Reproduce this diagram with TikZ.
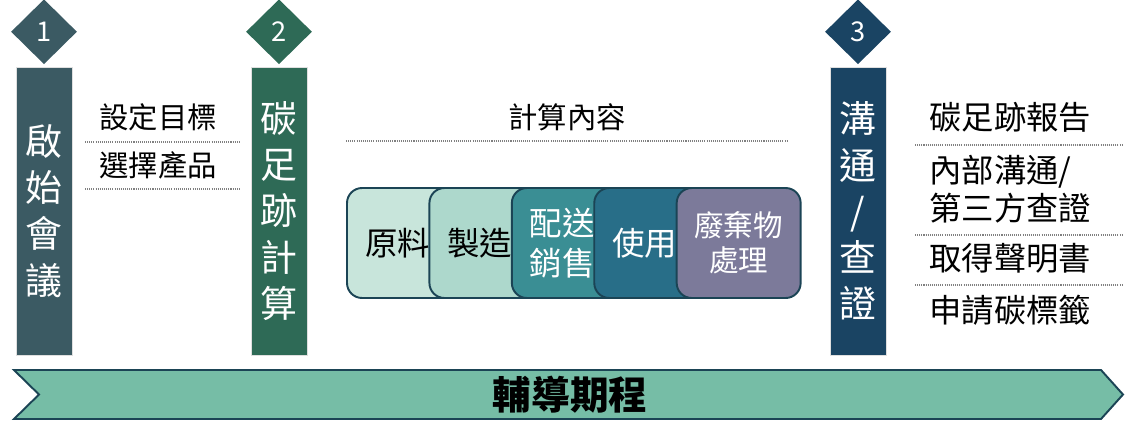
\documentclass[tikz,border=0pt]{standalone}
\usepackage{fontspec}
\setmainfont{Noto Sans CJK TC}
\usetikzlibrary{shapes.geometric,positioning}

\definecolor{stepone}{HTML}{3B5A63}
\definecolor{steptwo}{HTML}{2E6A56}
\definecolor{stepthree}{HTML}{1A4463}
\definecolor{edgeblue}{HTML}{1B4455}
\definecolor{rawfill}{HTML}{C8E5DB}
\definecolor{makefill}{HTML}{ADD8CC}
\definecolor{shipfill}{HTML}{3A8E94}
\definecolor{usefill}{HTML}{286E88}
\definecolor{wastefill}{HTML}{7C7A9A}
\definecolor{bandfill}{HTML}{76BDA6}

\tikzset{
  pillar/.style={fill=#1, draw=white!75!gray, line width=0.5pt, text=white,
    minimum width=1.12cm, minimum height=5.76cm, inner sep=0pt, align=center,
    font=\fontsize{21}{26.3}\selectfont},
  badge/.style={diamond, fill=#1, text=white, inner sep=0pt,
    minimum width=1.32cm, minimum height=1.3cm, font=\fontsize{15.5}{18}\selectfont},
  stage/.style={fill=#1, draw=edgeblue, line width=1.1pt, rounded corners=0.3cm,
    minimum width=2.48cm, minimum height=2.2cm, text width=1.76cm, inner xsep=0.36cm,
    align=left, font=\fontsize{18.5}{22.7}\selectfont},
  note/.style={inner sep=0pt, anchor=west, align=left, font=\fontsize{16.7}{20}\selectfont},
  bignote/.style={note, font=\fontsize{18.4}{21.5}\selectfont},
  sep/.style={gray, line width=0.6pt, dash pattern=on 0.6pt off 0.6pt},
}

\begin{document}
\begin{tikzpicture}[x=0.02cm, y=-0.02cm]
  \useasboundingbox (0,0) rectangle (1125,440);

  % three steps
  \node[pillar=stepone] (kick) at (44,211) {啟\\始\\會\\議};
  \node[pillar=steptwo] (calc) at (279,211) {碳\\足\\跡\\計\\算};
  \node[pillar=stepthree] (talk) at (858,211) {溝\\通\\/\\查\\證};
  \node[badge=stepone, above=0.04cm of kick] (kickno) {1};
  \node[badge=steptwo, above=0.04cm of calc] (calcno) {2};
  \node[badge=stepthree, above=0.04cm of talk] (talkno) {3};

  % kick-off items
  \node[note] (goal) at (99,117) {設定目標};
  \node[note] (pick) at (99,165) {選擇產品};
  \draw[sep] (85,142) -- (240,142);
  \draw[sep] (85,189) -- (240,189);

  % calculation scope
  \node[note, anchor=center] (scope) at (567,117) {計算內容};
  \draw[sep] (346,141) -- (788,141);

  \node[stage=rawfill] (raw) at (409,243) {原料};
  \node[stage=makefill, right=-0.87cm of raw] (make) {製造};
  \node[stage=shipfill, text=white, right=-0.87cm of make] (ship) {配送\\銷售};
  \node[stage=usefill, text=white, right=-0.87cm of ship] (use) {使用};
  \node[stage=wastefill, text=white, right=-0.87cm of use, text width=2.2cm,
    inner xsep=0.14cm, align=center, font=\fontsize{16.8}{19.8}\selectfont] (waste) {廢棄物\\處理};

  % communication items
  \node[bignote] (report) at (929,117) {碳足跡報告};
  \node[bignote] (verify) at (929,189) {內部溝通/\\第三方查證};
  \node[bignote] (claim) at (929,258) {取得聲明書};
  \node[bignote] (label) at (929,310) {申請碳標籤};
  \draw[sep] (915,145) -- (1123,145);
  \draw[sep] (915,235) -- (1123,235);
  \draw[sep] (915,285) -- (1123,285);

  % timeline band
  \draw[fill=bandfill, draw=edgeblue, line width=1.1pt]
    (14,370) -- (1101,370) -- (1123,394.5) -- (1101,419) -- (14,419) -- (39,394.5) -- cycle;
  \node[font=\fontsize{22}{26}\selectfont\bfseries] (plan) at (570,394.5) {輔導期程};
\end{tikzpicture}
\end{document}
